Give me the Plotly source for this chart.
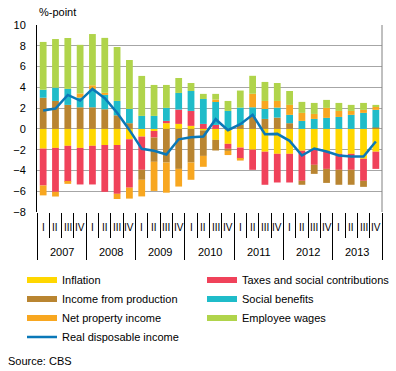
import plotly.graph_objects as go

# ---------------- data ----------------
years = ["2007", "2008", "2009", "2010", "2011", "2012", "2013"]
quarters = ["I", "II", "III", "IV"]

inflation = [-1.90, -1.83, -1.63, -1.83, -1.63, -1.55, -1.55, -1.00,
             -0.74, -0.20, 0.55, 0.48, 0.29, -0.15, -1.06, -1.44,
             -1.80, -2.00, -2.20, -2.40, -2.40, -2.10, -2.00, -2.20,
             -2.40, -2.40, -2.88, -2.20]
taxes = [-3.55, -4.23, -3.47, -3.52, -3.72, -4.51, -4.70, -4.66,
         -3.20, -0.63, 0.22, 1.38, 1.44, 0.48, 0.38, -0.48,
         -1.08, -1.94, -3.18, -2.76, -2.76, -2.90, -1.46, -1.65,
         -1.54, -1.54, -2.12, -1.65]
production = [3.00, 2.69, 2.31, 2.08, 2.08, 1.89, 1.31, 0.55,
              -0.96, -2.34, -3.24, -3.85, -3.24, -2.45, -1.02, -0.20,
              0.38, 1.18, 0.96, 1.09, 0.55, -0.38, -0.87, -1.35,
              -1.44, -1.44, -0.58, 0.13]
social = [0.77, 1.28, 1.54, 0.93, 1.72, 1.38, 1.38, 1.37,
          1.25, 1.25, 1.25, 1.60, 1.92, 2.40, 2.25, 1.73,
          1.67, 0.90, 0.96, 0.96, 0.80, 0.77, 0.96, 1.06,
          1.15, 1.35, 1.54, 1.70]
property_income = [-0.95, -0.45, -0.19, 0.40, 0.40, 0.20, -0.50, -1.05,
                   -1.60, -2.80, -2.90, -1.70, -1.66, -1.05, 0.19, -0.40,
                   -0.17, 1.30, 0.77, 0.64, 0.96, 0.77, 0.48, 0.96,
                   0.58, 0.38, 0.29, 0.29]
wages = [4.60, 4.68, 4.90, 4.68, 4.93, 5.29, 5.19, 4.71,
         3.85, 2.98, 2.21, 1.44, 0.77, 0.49, 0.55, 0.96,
         1.64, 1.73, 1.83, 1.73, 1.34, 1.06, 1.06, 0.77,
         0.77, 0.58, 0.67, 0.19]
real_income = [1.76, 1.96, 3.27, 2.72, 3.85, 2.95, 1.55, -0.10,
               -1.92, -2.10, -2.47, -1.00, -0.80, -0.74, 0.93, -0.13,
               0.45, 1.35, -0.51, -0.48, -1.15, -2.56, -1.89, -2.18,
               -2.56, -2.66, -2.66, -1.22]

series_names = ["Inflation", "Taxes and social contributions", "Income from production",
                "Social benefits", "Net property income", "Employee wages"]
series_values = [inflation, taxes, production, social, property_income, wages]
series_colors = ["#FFD700", "#F0425A", "#B98531", "#1FBCC9", "#F8A720", "#B0D44B"]
legend_column = ["legend", "legend2", "legend", "legend2", "legend", "legend2"]
line_name = "Real disposable income"
line_color = "#0A78B8"

n = len(years) * len(quarters)
x = list(range(n))
quarter_labels = quarters * len(years)

FONT = "Liberation Sans, Arial, sans-serif"
W_PLOT = 345.0  # plot-area width in px
H = 187.0       # plot-area height in px

fig = go.Figure()
for name, vals, col in zip(series_names, series_values, series_colors):
    fig.add_trace(go.Bar(x=x, y=vals, name=name, width=0.55,
                         marker=dict(color=col, line=dict(width=0)),
                         showlegend=False,
                         hovertemplate=name + ": %{y}<extra></extra>"))
# legend entries (drawn as wide strokes like the original)
for name, col, lg in zip(series_names, series_colors, legend_column):
    fig.add_trace(go.Scatter(x=[None], y=[None], mode="lines", name=name,
                             legend=lg, line=dict(color=col, width=6)))
fig.add_trace(go.Scatter(x=x, y=real_income, mode="lines", name=line_name,
                         legend="legend", line=dict(color=line_color, width=2.5)))

annotations = []
for i, q in zip(x, quarter_labels):
    annotations.append(dict(x=i, y=-15 / H, xref="x", yref="paper", text=q,
                            showarrow=False, font=dict(size=10, color="black", family=FONT),
                            xanchor="center", yanchor="middle"))
for k, yr in enumerate(years):
    annotations.append(dict(x=k * len(quarters) + (len(quarters) - 1) / 2, y=-40 / H,
                            xref="x", yref="paper", text=yr, showarrow=False,
                            font=dict(size=11, color="black", family=FONT),
                            xanchor="center", yanchor="middle"))
annotations.append(dict(x=0, y=1 + 13 / H, xref="paper", yref="paper", text="%-point",
                        showarrow=False, xanchor="left", yanchor="middle",
                        font=dict(size=11, color="black", family=FONT)))
annotations.append(dict(x=-31 / W_PLOT, y=-149 / H, xref="paper", yref="paper", text="Source: CBS",
                        showarrow=False, xanchor="left", yanchor="middle",
                        font=dict(size=11, color="black", family=FONT)))

legend_common = dict(orientation="v", yanchor="top", xanchor="left", y=-53.5 / H,
                     itemwidth=30, tracegroupgap=0, traceorder="normal",
                     font=dict(size=11, color="black", family=FONT),
                     bgcolor="rgba(0,0,0,0)", borderwidth=0)

fig.update_layout(
    width=396, height=371,
    margin=dict(l=37, r=14, t=25, b=159, autoexpand=False),
    paper_bgcolor="white", plot_bgcolor="white",
    barmode="relative",
    font=dict(family=FONT, size=11, color="black"),
    showlegend=True,
    legend=dict(x=-15 / W_PLOT, **legend_common),
    legend2=dict(x=165 / W_PLOT, **legend_common),
    xaxis=dict(range=[-0.5, n - 0.5], showgrid=False, zeroline=False, showline=False,
               ticks="outside", tickmode="linear", tick0=-0.5, dtick=len(quarters),
               ticklen=47, tickcolor="black", tickwidth=1, showticklabels=False,
               minor=dict(ticks="outside", tickmode="linear", tick0=-0.5, dtick=1,
                          ticklen=25, tickcolor="black", tickwidth=1, showgrid=False),
               automargin=False, fixedrange=True),
    xaxis2=dict(overlaying="x", anchor="free", position=8 / 18, range=[-0.5, n - 0.5],
                showgrid=False, zeroline=False, showline=True, linecolor="black", linewidth=1,
                ticks="outside", tickmode="linear", tick0=-0.5, dtick=1, ticklen=3,
                tickcolor="black", tickwidth=1, showticklabels=False,
                automargin=False, fixedrange=True),
    yaxis=dict(range=[-8, 10], tickmode="linear", tick0=0, dtick=2,
               showgrid=True, gridcolor="#A6A6A6", gridwidth=1,
               zeroline=False, showline=True, linecolor="black", linewidth=1,
               ticks="", ticklabelstandoff=8, tickfont=dict(size=11, color="black", family=FONT),
               automargin=False, fixedrange=True),
    shapes=[dict(type="line", xref="paper", yref="paper", x0=1, x1=1, y0=0, y1=1,
                 line=dict(color="#808080", width=1))],
    annotations=annotations,
)

fig.write_html("out.html", config={"displayModeBar": False},
               post_script="document.body.style.margin='0';document.body.style.overflow='hidden';")
